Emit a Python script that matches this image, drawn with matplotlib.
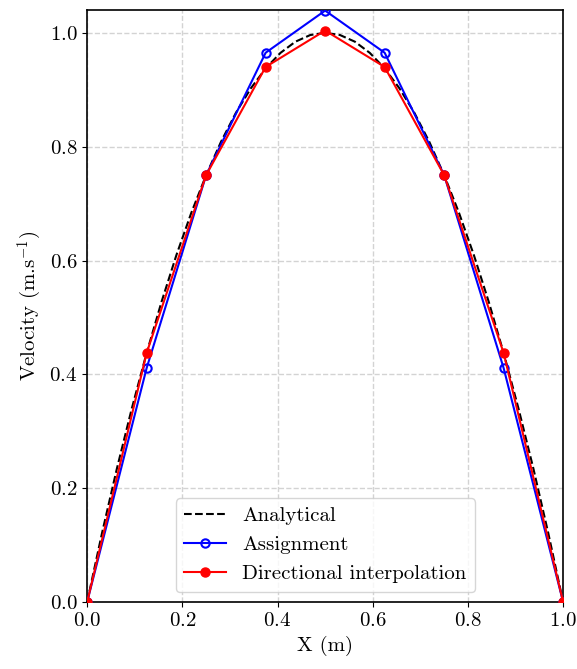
import matplotlib
matplotlib.use("Agg")
from matplotlib import pyplot as plt

plt.rcParams["font.family"] = "serif"
plt.rcParams["font.serif"] = ["cmr10"]
plt.rcParams["mathtext.fontset"] = "cm"
plt.rcParams["axes.formatter.use_mathtext"] = True
plt.rcParams["font.size"] = 15

# analytical profile
x_ana = [0, 1/32, 2/32, 3/32, 4/32, 5/32, 6/32, 7/32, 8/32, 9/32, 10/32, 11/32,
         12/32, 13/32, 14/32, 15/32, 16/32, 17/32, 18/32, 19/32, 20/32, 21/32,
         22/32, 23/32, 24/32, 25/32, 26/32, 27/32, 28/32, 29/32, 30/32, 31/32, 1]
v_ana = [0.0, 0.1211, 0.2344, 0.3398, 0.4375, 0.5273, 0.6094, 0.6836, 0.75,
         0.8086, 0.8594, 0.9023, 0.9375, 0.9648, 0.9844, 0.9961, 1.0, 0.9961,
         0.9844, 0.9648, 0.9375, 0.9023, 0.8594, 0.8086, 0.75, 0.6836, 0.6094,
         0.5273, 0.4375, 0.3398, 0.2344, 0.1211, 0.0]

# numerical results
x_num = [0, 0.125, 0.25, 0.375, 0.5, 0.625, 0.75, 0.875, 1.0]
v_assign = [0.0, 0.411, 0.750, 0.965, 1.039, 0.965, 0.750, 0.411, 0.0]
v_dir = [0.0, 0.4375, 0.750, 0.940, 1.004, 0.940, 0.750, 0.4375, 0.0]

fig, ax = plt.subplots(figsize=(5.77, 6.69), dpi=100)
ax.plot(x_ana, v_ana, "k--", lw=1.5, label="Analytical", zorder=3)
ax.plot(x_num, v_assign, "b-o", lw=1.5, mfc="none", ms=6, mew=1.5,
        label="Assignment", zorder=4)
ax.plot(x_num, v_dir, "r-o", lw=1.5, ms=6.5, label="Directional interpolation",
        zorder=5)

ax.set_xlim(0, 1)
ax.set_ylim(0, 1.04)
ax.set_xlabel("X (m)")
ax.set_ylabel(r"Velocity (m.s$^{-1}$)")
ax.grid(True, ls="--", color="lightgray", lw=1)
for s in ax.spines.values():
    s.set_linewidth(1.2)
ax.legend(loc="lower center", fontsize=15)

plt.subplots_adjust(left=0.151, right=0.976, top=0.985, bottom=0.100)
plt.savefig("out.png")
